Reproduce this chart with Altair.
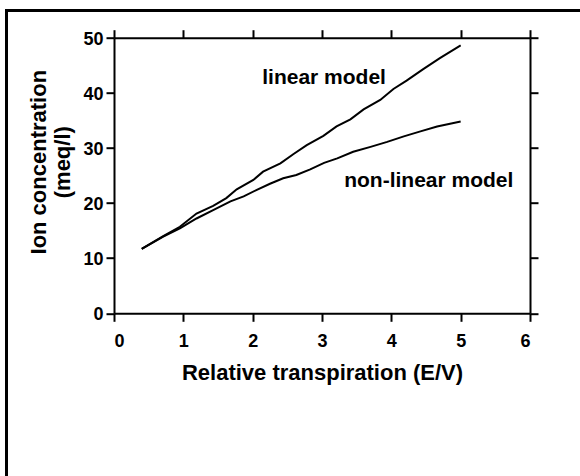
import altair as alt
import pandas as pd

# ---- data ----
x_linear = [0.4, 0.71, 0.95, 1.19, 1.43, 1.62, 1.77, 2.01, 2.15, 2.40, 2.59, 2.78,
            3.02, 3.21, 3.41, 3.60, 3.84, 4.03, 4.22, 4.46, 4.70, 5.0]
y_linear = [11.7, 14.0, 15.7, 18.1, 19.5, 20.9, 22.5, 24.2, 25.7, 27.2, 28.9, 30.5,
            32.2, 33.9, 35.2, 37.0, 38.7, 40.7, 42.2, 44.3, 46.3, 48.6]

x_nonlinear = [0.4, 0.71, 0.95, 1.19, 1.43, 1.68, 1.87, 2.06, 2.25, 2.44, 2.63, 2.83,
               3.03, 3.22, 3.45, 3.70, 3.94, 4.18, 4.42, 4.66, 5.0]
y_nonlinear = [11.7, 13.9, 15.4, 17.2, 18.7, 20.3, 21.2, 22.4, 23.5, 24.5, 25.1, 26.1,
               27.3, 28.1, 29.3, 30.2, 31.1, 32.1, 33.0, 33.9, 34.8]

label_text = ["linear model", "non-linear model"]
label_x = [3.03, 4.54]
label_y = [41.6, 23.0]

x_ticks = [0, 1, 2, 3, 4, 5, 6]
y_ticks = [0, 10, 20, 30, 40, 50]

df = pd.concat([
    pd.DataFrame({"x": x_linear, "y": y_linear, "model": "linear"}),
    pd.DataFrame({"x": x_nonlinear, "y": y_nonlinear, "model": "non-linear"}),
])
lab = pd.DataFrame({"x": label_x, "y": label_y, "t": label_text})

FONT = "Liberation Sans"
W, H = 416, 275.6
PL, PT = 114, 37.7

xs = alt.Scale(domain=[0, 6], nice=False)
ys = alt.Scale(domain=[0, 50], nice=False)

common = dict(grid=False, domainColor="black", domainWidth=2, tickColor="black",
              tickWidth=2, tickSize=8, labelFont=FONT, labelFontSize=18,
              labelFontWeight="bold", labelColor="black", titleFont=FONT,
              titleFontSize=22, titleFontWeight="bold", titleColor="black")

x_axis = alt.Axis(orient="bottom", values=x_ticks, format="d",
                  title="Relative transpiration (E/V)", labelBaseline="alphabetic",
                  labelPadding=25, titleBaseline="alphabetic", titleY=66, **common)
y_axis = alt.Axis(orient="left", values=y_ticks, format="d",
                  title=["Ion concentration", "(meq/l)"], labelPadding=3,
                  labelOffset=1.5, titleBaseline="alphabetic", titleAngle=270,
                  titleX=-69, titleY=124, titleLineHeight=24, **common)
x_top = alt.Axis(orient="top", values=x_ticks, labels=False, title="", **common)
y_right = alt.Axis(orient="right", values=y_ticks, labels=False, title="", **common)

lines = alt.Chart(df).mark_line(strokeWidth=2, color="black").encode(
    x=alt.X("x:Q", scale=xs, axis=x_axis),
    y=alt.Y("y:Q", scale=ys, axis=y_axis),
    detail="model:N",
)

mirror = alt.Chart(df).mark_line(opacity=0).encode(
    x=alt.X("x:Q", scale=xs, axis=x_top),
    y=alt.Y("y:Q", scale=ys, axis=y_right),
    detail="model:N",
)

texts = alt.Chart(lab).mark_text(font=FONT, fontSize=21, fontWeight="bold",
                                 align="center", baseline="alphabetic",
                                 color="black").encode(
    x=alt.X("x:Q", scale=xs, axis=None),
    y=alt.Y("y:Q", scale=ys, axis=None),
    text="t:N",
)

one = alt.Data(values=[{"a": 1}])
frame_top = alt.Chart(one).mark_rule(color="black", strokeWidth=3).encode(
    x=alt.value(5 - PL), x2=alt.value(580 - PL + 5), y=alt.value(10.5 - PT))
frame_left = alt.Chart(one).mark_rule(color="black", strokeWidth=3).encode(
    x=alt.value(6.5 - PL), y=alt.value(9 - PT), y2=alt.value(476 - PT + 5))

chart = alt.layer(lines, mirror, texts, frame_top, frame_left).resolve_axis(
    x="independent", y="independent"
).properties(
    width=W, height=H,
    padding={"left": PL, "top": PT, "right": 580 - PL - W, "bottom": 476 - PT - H},
    autosize=alt.AutoSizeParams(type="none"),
    background="white",
).configure_view(stroke=None)

chart.save("out.html", embed_options={"renderer": "svg", "actions": False})
